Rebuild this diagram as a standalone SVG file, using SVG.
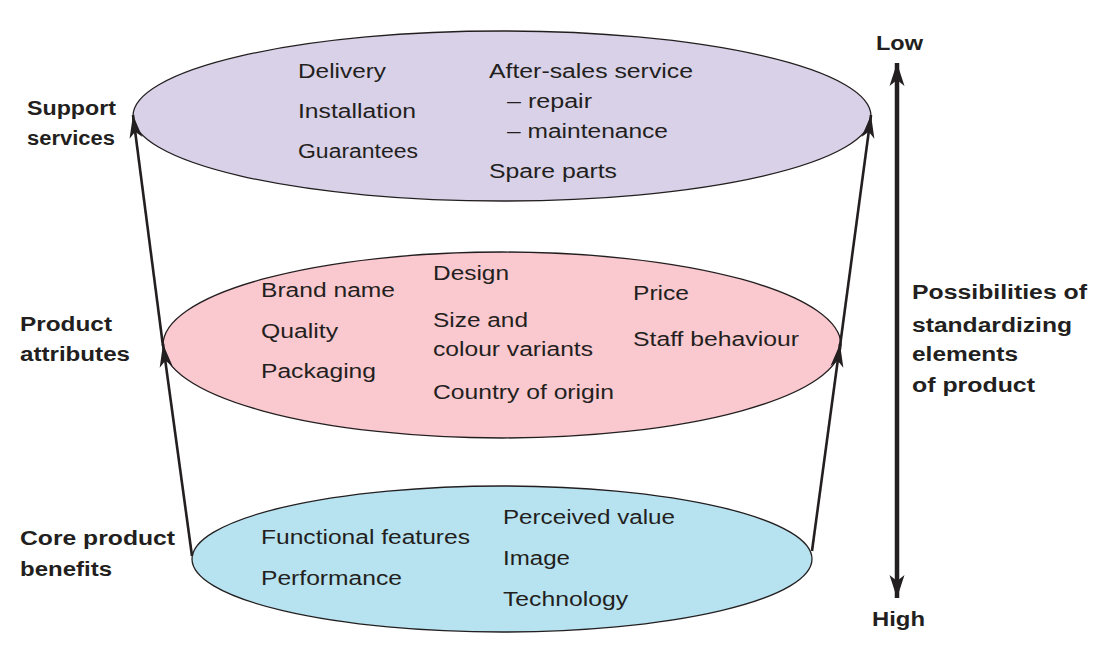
<svg xmlns="http://www.w3.org/2000/svg" width="1112" height="669" viewBox="0 0 1112 669">
<style>
.t{font-family:"Liberation Sans",Arial,sans-serif;font-size:20px;fill:#231f20}
.b{font-family:"Liberation Sans",Arial,sans-serif;font-size:20px;font-weight:bold;fill:#231f20}
.el{stroke:#231f20;stroke-width:1.3}
.ar{fill:none;stroke:#231f20;stroke-width:2.6;marker-end:url(#ah)}
.ax{fill:none;stroke:#231f20;stroke-width:4.5;marker-start:url(#ahb);marker-end:url(#ahb)}
</style>
<defs>
<marker id="ah" markerUnits="userSpaceOnUse" orient="auto" overflow="visible" refX="0" refY="0" markerWidth="1" markerHeight="1"><path d="M0,0 L-23,-6.5 L-17,0 L-23,6.5 Z" fill="#231f20"/></marker>
<marker id="ahb" markerUnits="userSpaceOnUse" orient="auto-start-reverse" overflow="visible" refX="0" refY="0" markerWidth="1" markerHeight="1"><path d="M0,0 L-23,-7.5 L-17,0 L-23,7.5 Z" fill="#231f20"/></marker>
</defs>
<rect width="1112" height="669" fill="#ffffff"/>
<g id="support-services">
<ellipse class="el" cx="502" cy="116" rx="369" ry="85" fill="#d9d1e7"/>
<text class="t" x="298" y="78" textLength="88" lengthAdjust="spacingAndGlyphs">Delivery</text>
<text class="t" x="298" y="118" textLength="118" lengthAdjust="spacingAndGlyphs">Installation</text>
<text class="t" x="298" y="158" textLength="120" lengthAdjust="spacingAndGlyphs">Guarantees</text>
<text class="t" x="489" y="78" textLength="204" lengthAdjust="spacingAndGlyphs">After-sales service</text>
<text class="t" x="507" y="108" textLength="85" lengthAdjust="spacingAndGlyphs">– repair</text>
<text class="t" x="507" y="138" textLength="161" lengthAdjust="spacingAndGlyphs">– maintenance</text>
<text class="t" x="489" y="178" textLength="128" lengthAdjust="spacingAndGlyphs">Spare parts</text>
<text class="b" x="27" y="115" textLength="89" lengthAdjust="spacingAndGlyphs">Support</text>
<text class="b" x="27" y="145" textLength="88" lengthAdjust="spacingAndGlyphs">services</text>
</g>
<g id="product-attributes">
<ellipse class="el" cx="502" cy="345" rx="339" ry="93" fill="#fac8cf"/>
<text class="t" x="261" y="297" textLength="134" lengthAdjust="spacingAndGlyphs">Brand name</text>
<text class="t" x="261" y="338" textLength="77" lengthAdjust="spacingAndGlyphs">Quality</text>
<text class="t" x="261" y="378" textLength="115" lengthAdjust="spacingAndGlyphs">Packaging</text>
<text class="t" x="433" y="280" textLength="76" lengthAdjust="spacingAndGlyphs">Design</text>
<text class="t" x="433" y="327" textLength="95" lengthAdjust="spacingAndGlyphs">Size and</text>
<text class="t" x="433" y="356" textLength="160" lengthAdjust="spacingAndGlyphs">colour variants</text>
<text class="t" x="433" y="399" textLength="181" lengthAdjust="spacingAndGlyphs">Country of origin</text>
<text class="t" x="633" y="300" textLength="56" lengthAdjust="spacingAndGlyphs">Price</text>
<text class="t" x="633" y="346" textLength="166" lengthAdjust="spacingAndGlyphs">Staff behaviour</text>
<text class="b" x="20" y="331" textLength="92" lengthAdjust="spacingAndGlyphs">Product</text>
<text class="b" x="20" y="361" textLength="110" lengthAdjust="spacingAndGlyphs">attributes</text>
</g>
<g id="core-product-benefits">
<ellipse class="el" cx="502" cy="559" rx="310" ry="73" fill="#b7e2f0"/>
<text class="t" x="261" y="544" textLength="209" lengthAdjust="spacingAndGlyphs">Functional features</text>
<text class="t" x="261" y="585" textLength="141" lengthAdjust="spacingAndGlyphs">Performance</text>
<text class="t" x="503" y="524" textLength="172" lengthAdjust="spacingAndGlyphs">Perceived value</text>
<text class="t" x="503" y="565" textLength="67" lengthAdjust="spacingAndGlyphs">Image</text>
<text class="t" x="503" y="606" textLength="125" lengthAdjust="spacingAndGlyphs">Technology</text>
<text class="b" x="20" y="545" textLength="155" lengthAdjust="spacingAndGlyphs">Core product</text>
<text class="b" x="20" y="576" textLength="92" lengthAdjust="spacingAndGlyphs">benefits</text>
</g>
<g id="standardization-axis">
<text class="b" x="876" y="50" textLength="47" lengthAdjust="spacingAndGlyphs">Low</text>
<text class="b" x="872" y="626" textLength="53" lengthAdjust="spacingAndGlyphs">High</text>
<text class="b" x="912" y="299" textLength="175" lengthAdjust="spacingAndGlyphs">Possibilities of</text>
<text class="b" x="912" y="332" textLength="160" lengthAdjust="spacingAndGlyphs">standardizing</text>
<text class="b" x="912" y="361" textLength="106" lengthAdjust="spacingAndGlyphs">elements</text>
<text class="b" x="912" y="392" textLength="123" lengthAdjust="spacingAndGlyphs">of product</text>
</g>
<g id="connectors">
<path class="ar" d="M192,556 L163,344"/>
<path class="ar" d="M163,346 L133,115"/>
<path class="ar" d="M812,551 L840,344"/>
<path class="ar" d="M840,346 L871,115"/>
<path class="ax" d="M897,63 L897,598"/>
</g>
</svg>
